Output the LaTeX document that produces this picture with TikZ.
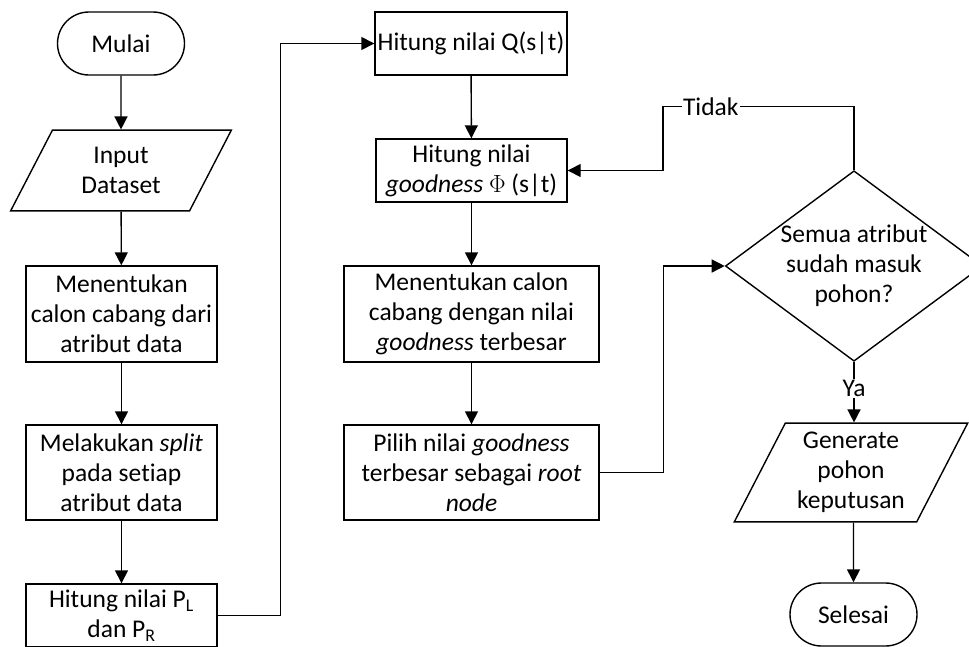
\documentclass[tikz,border=0pt]{standalone}
\usepackage{fontspec}
\setmainfont[Ligatures=NoCommon]{Carlito}
\usetikzlibrary{shapes.geometric,shapes.misc,arrows.meta}
\begin{document}
\begin{tikzpicture}[x=1pt,y=-1pt,line cap=butt,line join=miter,line width=1.4pt,
>={Triangle[length=13pt,width=13pt]},font=\fontsize{25.5}{30}\selectfont]
\tikzset{box/.style={draw,rectangle,align=center,inner sep=0pt},
term/.style={draw,rounded rectangle,minimum width=127pt,minimum height=63pt,inner sep=0pt},
data/.style={draw,trapezium,trapezium left angle=62.6,trapezium right angle=117.4,align=center,inner sep=0pt},
cond/.style={draw,diamond,aspect=1.35,minimum width=256pt,minimum height=190pt,align=center,inner sep=0pt},
lbl/.style={fill=white,inner sep=1pt}
}
\useasboundingbox (0,0) rectangle (969,646);
\node[term] (mulai) at (121,43.5) {Mulai};
\node[data,minimum width=221pt,minimum height=63pt] (input) at (121,170.5) {Input\\Dataset};
\node[box,minimum width=191pt,minimum height=96pt] (calon) at (121.5,314) {Menentukan\\calon cabang dari\\atribut data};
\node[box,minimum width=191pt,minimum height=95pt] (split) at (121.5,472.5) {Melakukan \textit{split}\\pada setiap\\atribut data};
\node[box,minimum width=191pt,minimum height=63pt] (prob) at (121.5,615.5) {Hitung nilai P\textsubscript{L}\\dan P\textsubscript{R}};
\node[box,minimum width=192pt,minimum height=63pt] (q) at (471,43.5) {Hitung nilai Q(s|t)};
\node[box,minimum width=191pt,minimum height=63pt] (good) at (471.5,170.5) {Hitung nilai\\\textit{goodness} $\Phi$ (s|t)};
\node[box,minimum width=255pt,minimum height=96pt] (best) at (471.5,314) {Menentukan calon\\cabang dengan nilai\\\textit{goodness} terbesar};
\node[box,minimum width=255pt,minimum height=95pt] (root) at (471.5,472.5) {Pilih nilai \textit{goodness}\\terbesar sebagai \textit{root}\\\textit{node}};
\node[cond] (cek) at (854,266) {Semua atribut\\sudah masuk\\pohon?};
\node[data,minimum width=234pt,minimum height=95pt] (gen) at (851,472.5) {Generate\\pohon\\keputusan};
\node[term] (selesai) at (853.5,614.5) {Selesai};
\coordinate (balik) at (663,106.5);
\draw[->] (mulai) -- (input);
\draw[->] (input) -- (calon);
\draw[->] (calon) -- (split);
\draw[->] (split) -- (prob);
\draw[->] (prob.east) -- ++(63,0) |- (q.west);
\draw[->] (q) -- (good);
\draw[->] (good) -- (best);
\draw[->] (best) -- (root);
\draw[->] (root.east) -- ++(64,0) |- (cek.west);
\draw[->] (cek.north) |- node[lbl,pos=0.875]{Tidak} (balik) |- (good.east);
\draw[->] (cek.south) -- node[lbl,pos=0.44]{Ya} (gen.north -| cek.south);
\draw[->] (gen.south -| selesai.north) -- (selesai);
\end{tikzpicture}
\end{document}
